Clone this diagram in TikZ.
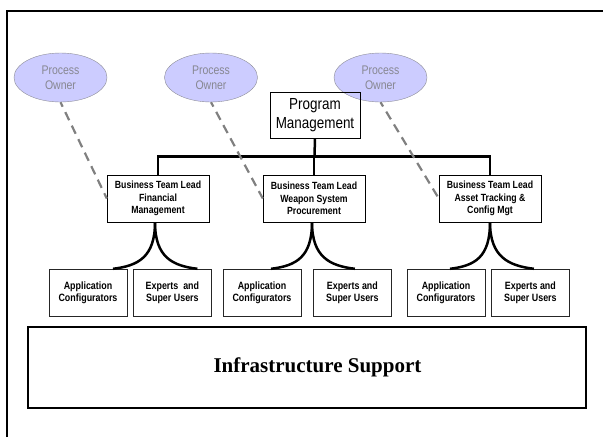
\documentclass[tikz,border=0pt]{standalone}
\usepackage{fontspec}
\setmainfont{Liberation Sans}[FakeStretch=0.84]
\newfontfamily\serifbold{Liberation Serif}
\usepackage{tikz}
\usetikzlibrary{shapes.geometric, positioning, calc}
\definecolor{ownerfill}{RGB}{204, 204, 255}
\definecolor{ownerline}{RGB}{140, 140, 150}
\definecolor{ownertext}{RGB}{135, 135, 145}
\definecolor{linkgray}{RGB}{128, 128, 128}

\begin{document}
\begin{tikzpicture}[x=1pt, y=-1pt,
    owner/.style={ellipse, draw=ownerline, fill=ownerfill, text=ownertext, minimum width=93pt, minimum height=49pt, inner sep=0pt, align=center, font=\fontsize{12.5}{15}\selectfont},
    lead/.style={draw, minimum width=102pt, minimum height=47pt, inner sep=0pt, align=center, font=\bfseries\fontsize{10.4}{12.5}\selectfont},
    member/.style={draw=black!85, minimum width=78pt, minimum height=47pt, inner sep=0pt, align=center, font=\bfseries\fontsize{10.6}{12.3}\selectfont},
    bus/.style={line width=2.5pt},
    split/.style={line width=2.5pt},
    ownerlink/.style={draw=linkgray, line width=2.2pt, dash pattern=on 9pt off 6pt, dash phase=4pt}]
    \useasboundingbox (0,0) rectangle (603,437);
    % page frame, cut off at right and bottom
    \draw[line width=1.5pt] (7,437) -- (7,11) -- (603,11);

    \node[owner] (po1) at (60.5,77.5) {Process\\Owner};
    \node[owner] (po2) at (211,77.5) {Process\\Owner};
    \node[owner] (po3) at (380.5,77.5) {Process\\Owner};

    \node[draw, minimum width=90pt, minimum height=46pt, inner sep=0pt, align=center, font=\fontsize{16}{19}\selectfont] (pm) at (315,115) {Program\\Management};

    \node[lead] (btl1) at (158,198.5) {Business Team Lead\\Financial\\Management};
    \node[lead] (btl2) at (314,198.5) {Business Team Lead\\Weapon System\\Procurement};
    \node[lead] (btl3) at (490,198.5) {Business Team Lead\\Asset Tracking \&\\Config Mgt};

    \node[member] (app1) at (88,292.5) {Application\\Configurators};
    \node[member, right=6pt of app1] (exp1) {Experts\ \ and\\Super Users};
    \node[member] (app2) at (262,292.5) {Application\\Configurators};
    \node[member, right=12pt of app2] (exp2) {Experts and\\Super Users};
    \node[member] (app3) at (446,292.5) {Application\\Configurators};
    \node[member, right=6pt of app3] (exp3) {Experts and\\Super Users};

    \node[draw, line width=2pt, minimum width=558pt, minimum height=81pt, font=\serifbold\bfseries\fontsize{21}{25}\selectfont] (infra) at (307,367.5) {\hspace*{21pt}Infrastructure Support};

    % reporting lines
    \coordinate (bus) at ($(pm.south)!0.5!(btl2.north)$);
    \draw[bus] (pm.south) -- (bus);
    \draw[bus] (btl1.north) |- (bus) -| (btl3.north);
    \draw[bus] (btl2.north |- bus) -- (btl2.north);

    % team splits
    \draw[split] ([xshift=-3pt]btl1.south) .. controls +(0,35) and +(25,-3) .. ([xshift=25pt]app1.north);
    \draw[split] ([xshift=-3pt]btl1.south) .. controls +(0,35) and +(-25,-3) .. ([xshift=25pt]exp1.north);
    \draw[split] ([xshift=-2pt]btl2.south) .. controls +(0,35) and +(25,-3) .. ([xshift=9pt]app2.north);
    \draw[split] ([xshift=-2pt]btl2.south) .. controls +(0,35) and +(-25,-3) .. ([xshift=2.5pt]exp2.north);
    \draw[split] (btl3.south) .. controls +(0,35) and +(25,-3) .. ([xshift=4pt]app3.north);
    \draw[split] (btl3.south) .. controls +(0,35) and +(-25,-3) .. ([xshift=3.5pt]exp3.north);

    % process owner links
    \draw[ownerlink] (po1.south) -- (btl1.west);
    \draw[ownerlink] (po2.south) -- (btl2.west);
    \draw[ownerlink] (po3.south) -- (btl3.west);
\end{tikzpicture}
\end{document}
